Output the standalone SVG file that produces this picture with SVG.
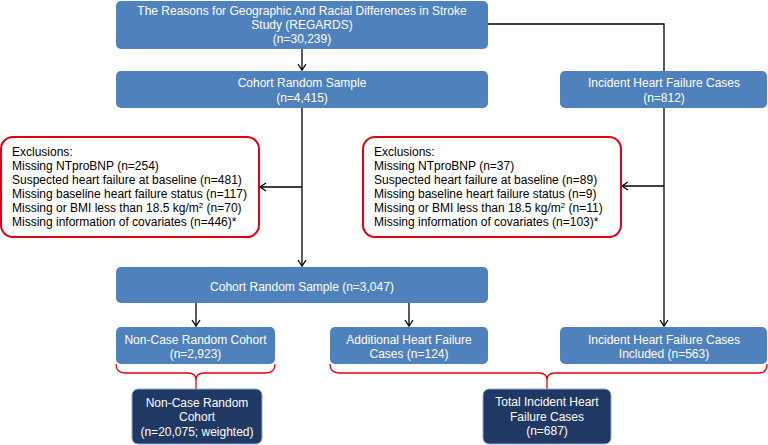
<svg xmlns="http://www.w3.org/2000/svg" width="768" height="445" viewBox="0 0 768 445">
<defs>
<style>
.b{fill:#4f81bd}
.d{fill:#1f3864;stroke:#8eaadb;stroke-width:1}
.x{fill:#fff;stroke:#e3000f;stroke-width:2}
.w{font-family:"Liberation Sans",Arial,sans-serif;font-size:12px;fill:#fff;text-anchor:middle}
.k{font-family:"Liberation Sans",Arial,sans-serif;font-size:12px;fill:#000}
.c{fill:none;stroke:#000;stroke-width:1.3}
.r{fill:none;stroke:#e3000f;stroke-width:1.3}
</style>
<marker id="a" markerWidth="10" markerHeight="10" refX="8" refY="5" orient="auto" markerUnits="userSpaceOnUse">
<path d="M2,1 L8,5 L2,9" fill="none" stroke="#000" stroke-width="1.3"/>
</marker>
</defs>
<rect width="768" height="445" fill="#fff"/>
<g id="connectors">
<path class="c" d="M302,49 V70" marker-end="url(#a)"/>
<path class="c" d="M488,24 H664 V71"/>
<path class="c" d="M302,108 V266" marker-end="url(#a)"/>
<path class="c" d="M302,187 H260" marker-end="url(#a)"/>
<path class="c" d="M664,108 V326" marker-end="url(#a)"/>
<path class="c" d="M664,186 H622" marker-end="url(#a)"/>
<path class="c" d="M196,303 V326" marker-end="url(#a)"/>
<path class="c" d="M409,303 V326" marker-end="url(#a)"/>
<path class="r" d="M116,364 Q116,373 125,373 L188,373 Q196,373 196,380 Q196,373 204,373 L266,373 Q275,373 275,364"/>
<path class="r" d="M196,380 V389"/>
<path class="r" d="M330,364 Q330,373 339,373 L539,373 Q547,373 547,380 Q547,373 555,373 L759,373 Q767,373 767,364"/>
<path class="r" d="M547,380 V389"/>
</g>
<g id="regards">
<rect class="b" x="116" y="1" width="372" height="48" rx="5"/>
<text class="w" x="302" y="15">The Reasons for Geographic And Racial Differences in Stroke</text>
<text class="w" x="302" y="29">Study (REGARDS)</text>
<text class="w" x="302" y="43">(n=30,239)</text>
</g>
<g id="cohort1">
<rect class="b" x="116" y="71" width="372" height="37" rx="5"/>
<text class="w" x="302" y="87">Cohort Random Sample</text>
<text class="w" x="302" y="102">(n=4,415)</text>
</g>
<g id="incident1">
<rect class="b" x="560" y="71" width="207" height="37" rx="5"/>
<text class="w" x="664" y="87">Incident Heart Failure Cases</text>
<text class="w" x="664" y="102">(n=812)</text>
</g>
<g id="excl1">
<rect class="x" x="1" y="137" width="258" height="100" rx="12"/>
<text class="k" x="12" y="156">Exclusions:</text>
<text class="k" x="12" y="170">Missing NTproBNP (n=254)</text>
<text class="k" x="12" y="184">Suspected heart failure at baseline (n=481)</text>
<text class="k" x="12" y="198">Missing baseline heart failure status (n=117)</text>
<text class="k" x="12" y="212">Missing or BMI less than 18.5 kg/m<tspan font-size="8" dy="-4">2</tspan><tspan dy="4"> (n=70)</tspan></text>
<text class="k" x="12" y="226">Missing information of covariates (n=446)*</text>
</g>
<g id="excl2">
<rect class="x" x="363" y="137" width="258" height="100" rx="12"/>
<text class="k" x="374" y="156">Exclusions:</text>
<text class="k" x="374" y="170">Missing NTproBNP (n=37)</text>
<text class="k" x="374" y="184">Suspected heart failure at baseline (n=89)</text>
<text class="k" x="374" y="198">Missing baseline heart failure status (n=9)</text>
<text class="k" x="374" y="212">Missing or BMI less than 18.5 kg/m<tspan font-size="8" dy="-4">2</tspan><tspan dy="4"> (n=11)</tspan></text>
<text class="k" x="374" y="226">Missing information of covariates (n=103)*</text>
</g>
<g id="cohort2">
<rect class="b" x="116" y="267" width="372" height="36" rx="5"/>
<text class="w" x="302" y="291">Cohort Random Sample (n=3,047)</text>
</g>
<g id="noncase">
<rect class="b" x="116" y="327" width="159" height="37" rx="5"/>
<text class="w" x="195.5" y="344">Non-Case Random Cohort</text>
<text class="w" x="195.5" y="358">(n=2,923)</text>
</g>
<g id="additional">
<rect class="b" x="330" y="327" width="158" height="37" rx="5"/>
<text class="w" x="409" y="344">Additional Heart Failure</text>
<text class="w" x="409" y="358">Cases (n=124)</text>
</g>
<g id="incident2">
<rect class="b" x="560" y="327" width="207" height="37" rx="5"/>
<text class="w" x="664" y="344">Incident Heart Failure Cases</text>
<text class="w" x="664" y="358">Included (n=563)</text>
</g>
<g id="noncaseTotal">
<rect class="d" x="132" y="389" width="130" height="55" rx="6"/>
<text class="w" x="197" y="407">Non-Case Random</text>
<text class="w" x="197" y="421">Cohort</text>
<text class="w" x="197" y="436">(n=20,075; weighted)</text>
</g>
<g id="totalIncident">
<rect class="d" x="483" y="389" width="128" height="55" rx="6"/>
<text class="w" x="547" y="406">Total Incident Heart</text>
<text class="w" x="547" y="421">Failure Cases</text>
<text class="w" x="547" y="435">(n=687)</text>
</g>
</svg>
